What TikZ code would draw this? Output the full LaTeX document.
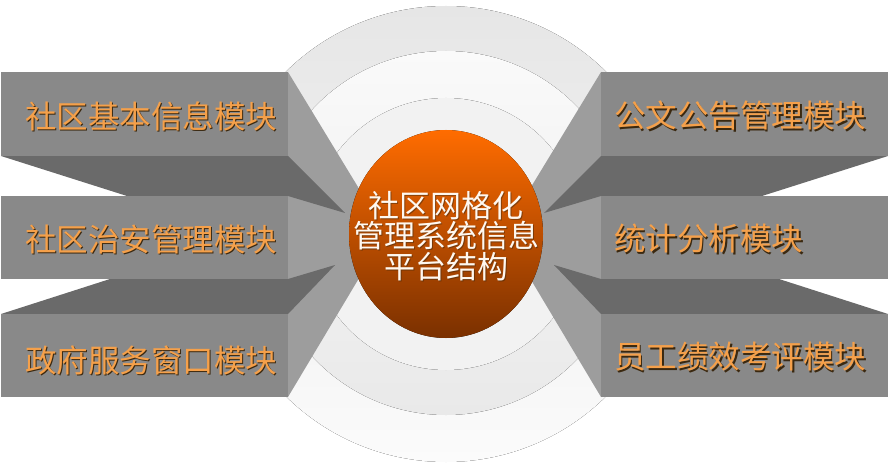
\documentclass[tikz,border=0pt]{standalone}
\usepackage{fontspec}
\newfontfamily\cjk{Noto Sans CJK SC}
\definecolor{frontg}{HTML}{898989}
\definecolor{sideg}{HTML}{9D9D9D}
\definecolor{darkg}{HTML}{6A6A6A}
\definecolor{ringAt}{HTML}{E6E6E6}
\definecolor{ringAb}{HTML}{FBFBFB}
\definecolor{ringBt}{HTML}{FAFAFA}
\definecolor{ringBb}{HTML}{E9E9E9}
\definecolor{ringCs}{HTML}{F2F2F2}
\definecolor{ringCm}{HTML}{BDBDBD}
\definecolor{orT}{HTML}{FF6C00}
\definecolor{orB}{HTML}{7A3000}
\definecolor{labo}{HTML}{F5A04A}
\definecolor{labsh}{HTML}{3A2810}
\definecolor{ctxt}{HTML}{FFF8F0}
\begin{document}
\begin{tikzpicture}[x=1pt,y=-1pt,
  front/.style={fill=frontg},
  sideface/.style={fill=sideg},
  darkface/.style={fill=darkg},
  labfont/.style={font=\cjk\fontsize{31.5}{32}\selectfont, inner sep=0pt, anchor=west},
  lab/.style={labfont, text=labo},
  labshadow/.style={labfont, text=labsh},
  ctrfont/.style={font=\cjk\fontsize{31}{30.5}\selectfont, inner sep=0pt, align=center},
]
\useasboundingbox (0,0) rectangle (892,465);
% background rings
\fill[top color=ringAt, bottom color=ringAb] (446,234) circle (228);
\fill[top color=ringBt, bottom color=ringBb] (446,233) circle (182);
\fill[left color=ringCs, middle color=ringCm, right color=ringCs] (446,234) circle (136);
% side faces
\fill[sideface] (288,72) -- (386,233) -- (288,397) -- cycle;
\fill[sideface] (601,72) -- (503,233) -- (601,397) -- cycle;
% dark faces
\fill[darkface] (1,156) -- (288,156) -- (345,213) -- (288,196) -- (127,196) -- cycle;
\fill[darkface] (1,314) -- (110,279) -- (288,279) -- (335,265) -- (288,314) -- cycle;
\fill[darkface] (888,156) -- (601,156) -- (544,213) -- (601,196) -- (762,196) -- cycle;
\fill[darkface] (888,314) -- (779,279) -- (601,279) -- (554,265) -- (601,314) -- cycle;
% front faces
\fill[front] (1,72) rectangle (288,156);
\fill[front] (1,196) rectangle (288,279);
\fill[front] (1,314) rectangle (288,397);
\fill[front] (601,72) rectangle (888,156);
\fill[front] (601,196) rectangle (888,279);
\fill[front] (601,314) rectangle (888,397);
% centre sphere
\fill[top color=orT, bottom color=orB] (446,234) ellipse [x radius=97, y radius=104];
% labels
\node[labshadow] (l1s) at (26.3,117.3) {社区基本信息模块};
\node[lab] (l1) at (25,116) {社区基本信息模块};
\node[labshadow] (l2s) at (26.3,240.3) {社区治安管理模块};
\node[lab] (l2) at (25,239) {社区治安管理模块};
\node[labshadow] (l3s) at (26.3,361.3) {政府服务窗口模块};
\node[lab] (l3) at (25,360) {政府服务窗口模块};
\node[labshadow] (r1s) at (615.3,117.3) {公文公告管理模块};
\node[lab] (r1) at (614,116) {公文公告管理模块};
\node[labshadow] (r2s) at (615.3,240.3) {统计分析模块};
\node[lab] (r2) at (614,239) {统计分析模块};
\node[labshadow] (r3s) at (615.3,358.3) {员工绩效考评模块};
\node[lab] (r3) at (614,357) {员工绩效考评模块};
% centre title
\node[ctrfont, text=labsh, opacity=0.5] (cs) at (447,237) {社区网格化\\管理系统信息\\平台结构};
\node[ctrfont, text=ctxt] (c) at (446,236) {社区网格化\\管理系统信息\\平台结构};
\end{tikzpicture}
\end{document}
